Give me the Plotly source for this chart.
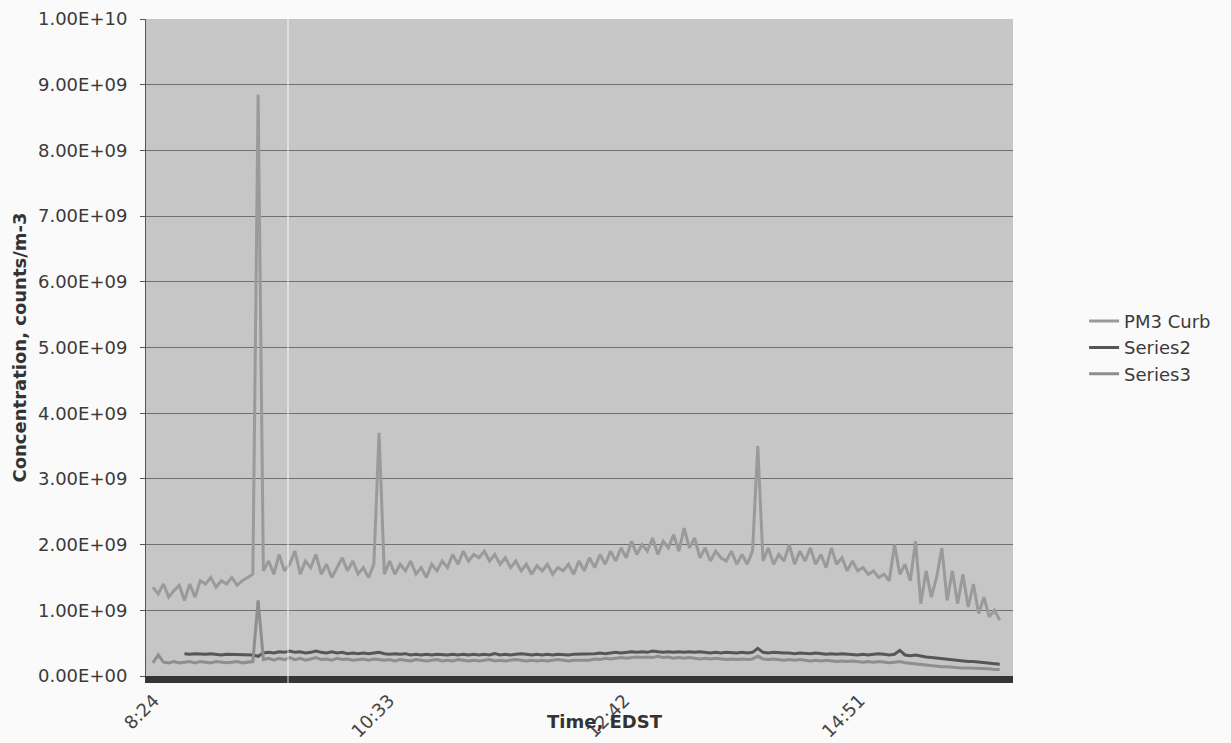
import pandas as pd
import plotly.graph_objects as go

# Logger readings, one every 173 s starting at 8:24
start_time = "2000-01-01 08:24"
sample_seconds = 173

# PM3 Curb concentration, in units of 1e9 counts/m-3
pm3_curb = [
    1.35, 1.25, 1.4, 1.2, 1.3,
    1.38, 1.15, 1.4, 1.2, 1.45,
    1.4, 1.5, 1.35, 1.45, 1.4,
    1.5, 1.38, 1.45, 1.5, 1.55,
    8.85, 1.6, 1.75, 1.55, 1.85,
    1.6, 1.7, 1.9, 1.55, 1.75,
    1.65, 1.85, 1.55, 1.7, 1.5,
    1.65, 1.8, 1.6, 1.75, 1.55,
    1.65, 1.5, 1.7, 3.7, 1.55,
    1.75, 1.55, 1.7, 1.6, 1.75,
    1.55, 1.65, 1.5, 1.7, 1.6,
    1.75, 1.65, 1.85, 1.7, 1.9,
    1.75, 1.85, 1.8, 1.9, 1.75,
    1.85, 1.7, 1.8, 1.65, 1.75,
    1.6, 1.7, 1.55, 1.68, 1.6,
    1.7, 1.55, 1.65, 1.6, 1.7,
    1.55, 1.75, 1.6, 1.8, 1.65,
    1.85, 1.7, 1.9, 1.75, 1.95,
    1.8, 2.05, 1.85, 2.0, 1.9,
    2.1, 1.85, 2.05, 1.95, 2.15,
    1.9, 2.25, 1.95, 2.1, 1.8,
    1.95, 1.75, 1.9, 1.8, 1.75,
    1.9, 1.7, 1.85, 1.7, 1.9,
    3.5, 1.75, 1.95, 1.7, 1.85,
    1.75, 2.0, 1.7, 1.9, 1.75,
    1.95, 1.7, 1.85, 1.65, 1.95,
    1.7, 1.8, 1.6, 1.75, 1.6,
    1.65, 1.55, 1.6, 1.5, 1.55,
    1.45, 2.0, 1.55, 1.7, 1.45,
    2.05, 1.1, 1.6, 1.2, 1.5,
    1.95, 1.15, 1.6, 1.1, 1.55,
    1.05, 1.4, 0.95, 1.2, 0.9,
    1.0, 0.85,
]

# Series2 starts at the 7th reading
series2_offset = 6
series2 = [
    0.34, 0.33, 0.34, 0.33, 0.33, 0.34, 0.33, 0.32, 0.33, 0.33, 0.32, 0.33, 0.32, 0.32, 0.3,
    0.35, 0.36, 0.35, 0.37, 0.36, 0.38, 0.36, 0.37, 0.35, 0.36, 0.38, 0.36, 0.35, 0.37, 0.35, 0.36, 0.34, 0.35, 0.34, 0.35,
    0.34, 0.35, 0.36, 0.34, 0.33, 0.34, 0.33, 0.34, 0.32, 0.33, 0.32, 0.33, 0.32, 0.33, 0.32, 0.32, 0.33, 0.32, 0.33, 0.32,
    0.33, 0.32, 0.33, 0.32, 0.34, 0.32, 0.33, 0.32, 0.33, 0.34, 0.33, 0.32, 0.33, 0.32, 0.33, 0.32, 0.33, 0.32, 0.32, 0.33,
    0.33, 0.34, 0.33, 0.34, 0.35, 0.34, 0.35, 0.36, 0.35, 0.36, 0.37, 0.36, 0.37, 0.36, 0.38, 0.37, 0.36, 0.37, 0.36, 0.37,
    0.36, 0.37, 0.36, 0.37, 0.36, 0.35, 0.36, 0.35, 0.36, 0.35, 0.35, 0.36, 0.35, 0.36, 0.42, 0.36, 0.35, 0.36, 0.35, 0.35,
    0.35, 0.34, 0.35, 0.34, 0.34, 0.35, 0.34, 0.33, 0.34, 0.33, 0.34, 0.33, 0.33, 0.32, 0.33, 0.32, 0.33, 0.34, 0.33, 0.32,
    0.33, 0.39, 0.32, 0.31, 0.32, 0.30, 0.29, 0.28, 0.27, 0.26, 0.25, 0.24, 0.24, 0.23, 0.22, 0.22, 0.21, 0.2, 0.19, 0.19, 0.18,
]

series3 = [
    0.2, 0.32, 0.21, 0.2, 0.22, 0.2, 0.21, 0.22, 0.2, 0.22, 0.21, 0.2, 0.22, 0.21, 0.2, 0.21, 0.22, 0.2, 0.21, 0.22,
    1.15,
    0.25, 0.27, 0.24, 0.27, 0.25, 0.28, 0.25, 0.27, 0.24, 0.26, 0.28, 0.25, 0.26, 0.24, 0.27, 0.25, 0.26, 0.24, 0.25, 0.26,
    0.24, 0.26, 0.25, 0.24, 0.25, 0.23, 0.25, 0.24, 0.23, 0.25, 0.24, 0.23, 0.24, 0.25, 0.23, 0.24, 0.23, 0.25, 0.24, 0.23,
    0.24, 0.23, 0.24, 0.25, 0.23, 0.24, 0.23, 0.24, 0.25, 0.24, 0.23, 0.24, 0.23, 0.24, 0.23, 0.24, 0.25, 0.24, 0.23, 0.24,
    0.24, 0.25, 0.24, 0.26, 0.25, 0.27, 0.26, 0.27, 0.28, 0.27, 0.28, 0.29, 0.28, 0.29, 0.28, 0.3, 0.28, 0.29, 0.27, 0.28,
    0.27, 0.28, 0.27, 0.26, 0.27, 0.26, 0.27, 0.26, 0.25, 0.26, 0.25, 0.26, 0.25, 0.26, 0.3, 0.26, 0.25, 0.26, 0.25, 0.24,
    0.25, 0.24, 0.25, 0.24, 0.23, 0.24, 0.23, 0.24, 0.23, 0.22, 0.23, 0.22, 0.23, 0.22, 0.21, 0.22, 0.21, 0.22, 0.21, 0.2,
    0.21, 0.22, 0.2, 0.19, 0.18, 0.17, 0.16, 0.15, 0.15, 0.14, 0.14, 0.13, 0.13, 0.12, 0.12, 0.12, 0.11, 0.11, 0.11, 0.1, 0.1,
]

tick_times = ["08:24", "10:33", "12:42", "14:51"]
y_tick_values = [0, 1e9, 2e9, 3e9, 4e9, 5e9, 6e9, 7e9, 8e9, 9e9, 1e10]
y_tick_labels = ["0.00E+00", "1.00E+09", "2.00E+09", "3.00E+09", "4.00E+09", "5.00E+09",
                 "6.00E+09", "7.00E+09", "8.00E+09", "9.00E+09", "1.00E+10"]

SCALE = 1e9
times = pd.date_range(start_time, periods=len(pm3_curb), freq=f"{sample_seconds}s")
times2 = times[series2_offset:series2_offset + len(series2)]

FONT = "DejaVu Sans, Verdana, sans-serif"

fig = go.Figure()
fig.add_trace(go.Scatter(
    x=times, y=[v * SCALE for v in pm3_curb], name="PM3 Curb", mode="lines",
    line=dict(color="#9a9a9a", width=3),
))
fig.add_trace(go.Scatter(
    x=times2, y=[v * SCALE for v in series2], name="Series2", mode="lines",
    line=dict(color="#565656", width=3),
))
fig.add_trace(go.Scatter(
    x=times, y=[v * SCALE for v in series3], name="Series3", mode="lines",
    line=dict(color="#8e8e8e", width=3),
))

day = "2000-01-01 "
x_start = pd.Timestamp(start_time) - pd.Timedelta(minutes=3.8)
x_end = pd.Timestamp(start_time) + pd.Timedelta(minutes=471.5)

fig.update_layout(
    width=1231, height=743,
    margin=dict(l=146, r=218, t=19, b=67),
    paper_bgcolor="#fafafa",
    plot_bgcolor="#c6c6c6",
    font=dict(family=FONT, size=18, color="#3a3a3a"),
    showlegend=True,
    legend=dict(
        x=1.082, y=0.568, xanchor="left", yanchor="top",
        bgcolor="rgba(0,0,0,0)", font=dict(size=18, color="#3a3a3a"),
        tracegroupgap=0, itemwidth=30,
    ),
    xaxis=dict(
        range=[x_start, x_end],
        tickvals=[pd.Timestamp(day + t) for t in tick_times],
        ticktext=[t.lstrip("0") for t in tick_times],
        tickangle=-45,
        showgrid=False, zeroline=False,
        showline=True, linecolor="#353535", linewidth=7,
        ticks="", tickfont=dict(size=18, color="#444444"),
        ticklabelshift=1,
        automargin=False,
    ),
    yaxis=dict(
        range=[0, 1e10],
        tickvals=y_tick_values, ticktext=y_tick_labels,
        showgrid=True, gridcolor="#707070", gridwidth=1,
        zeroline=False,
        showline=True, linecolor="#555555", linewidth=1,
        ticks="outside", ticklen=5, tickcolor="#555555",
        tickfont=dict(size=18, color="#3a3a3a"),
        ticklabelstandoff=9,
        automargin=False,
        title=dict(text="<b>Concentration, counts/m-3</b>",
                   font=dict(size=18, color="#333333"), standoff=6),
    ),
    annotations=[dict(
        text="<b>Time, EDST</b>", xref="paper", yref="paper",
        x=0.529, y=-0.069, xanchor="center", yanchor="middle",
        showarrow=False, font=dict(size=18, color="#333333"),
    )],
    shapes=[dict(
        type="line", xref="paper", yref="paper",
        x0=0.1638, x1=0.1638, y0=-0.02, y1=1.03,
        line=dict(color="rgba(255,255,255,0.85)", width=1),
    )],
)

fig.write_html("out.html")
